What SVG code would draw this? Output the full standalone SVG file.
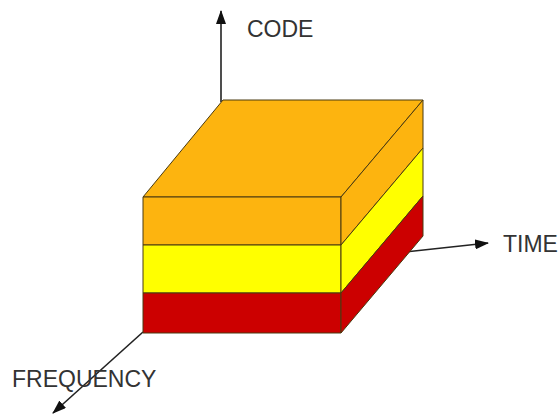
<svg xmlns="http://www.w3.org/2000/svg" width="559" height="417" viewBox="0 0 559 417">
  <style>
    .axis { stroke: #222; stroke-width: 1.6; fill: none; }
    .edge { stroke: #4a3a10; stroke-width: 1; stroke-linejoin: round; }
    .orange { fill: #FDB40F; }
    .yellow { fill: #FFFF00; }
    .red { fill: #CC0000; }
    .label { font-family: "Liberation Sans", Arial, sans-serif; font-size: 23px; fill: #333; }
  </style>
  <defs>
    <marker id="arrow" viewBox="0 0 14 10" refX="13" refY="5" markerWidth="14" markerHeight="10" markerUnits="userSpaceOnUse" orient="auto">
      <path d="M0,0 L14,5 L0,10 Z" fill="#111"/>
    </marker>
  </defs>

  <!-- axes, drawn behind the box -->
  <g id="connectors">
    <line class="axis" x1="221" y1="102" x2="221" y2="11" marker-end="url(#arrow)"/>
    <line class="axis" x1="405" y1="252" x2="488" y2="243" marker-end="url(#arrow)"/>
    <line class="axis" x1="143" y1="332" x2="53" y2="413" marker-end="url(#arrow)"/>
  </g>

  <!-- three stacked layers forming the block -->
  <g id="block">
    <g id="layer-code">
      <polygon class="orange edge" points="143,197 223,100 423,100 341,197"/>
      <rect class="orange edge" x="143" y="197" width="198" height="48"/>
      <polygon class="orange edge" points="341,197 423,100 423,148 341,245"/>
    </g>
    <g id="layer-time">
      <rect class="yellow edge" x="143" y="245" width="198" height="48"/>
      <polygon class="yellow edge" points="341,245 423,148 423,196 341,293"/>
    </g>
    <g id="layer-frequency">
      <rect class="red edge" x="143" y="293" width="198" height="40"/>
      <polygon class="red edge" points="341,293 423,196 423,236 341,333"/>
    </g>
  </g>

  <g id="label-code"><text class="label" x="247" y="37">CODE</text></g>
  <g id="label-time"><text class="label" x="503" y="252">TIME</text></g>
  <g id="label-frequency"><text class="label" x="12" y="387">FREQUENCY</text></g>
</svg>
